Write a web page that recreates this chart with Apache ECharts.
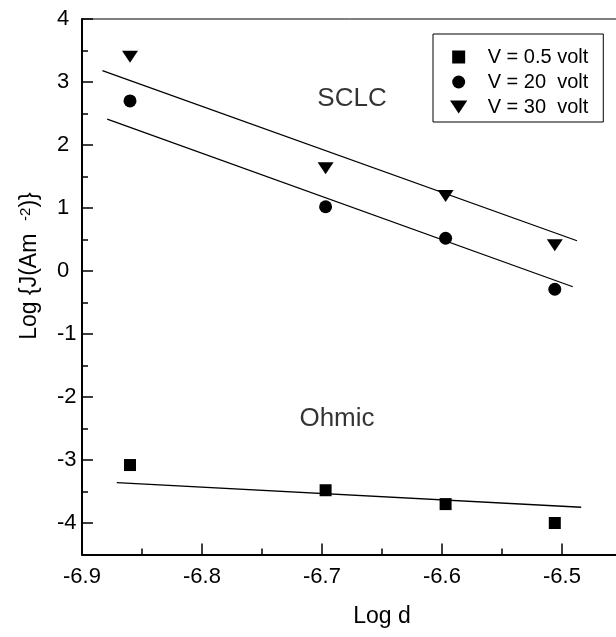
<!DOCTYPE html>
<html>
<head>
<meta charset="utf-8">
<script src="https://cdn.jsdelivr.net/npm/echarts@6/dist/echarts.min.js"></script>
<style>
  html, body { margin: 0; padding: 0; background: #fff; }
  #chart { width: 616px; height: 637px; }
</style>
</head>
<body>
<div id="chart"></div>
<script>
// Film thickness (log d) and current density (log J) for three bias voltages
const xLogD = [-6.860, -6.697, -6.597, -6.506];
const jV05 = [-3.08, -3.48, -3.70, -4.00];
const jV20 = [2.70, 1.02, 0.52, -0.29];
const jV30 = [3.40, 1.63, 1.19, 0.41];
const seriesNames = ['V = 0.5 volt', 'V = 20  volt', 'V = 30  volt'];

// Straight-line fits (end points)
const fitX05 = [-6.871, -6.484];
const fitY05 = [-3.36, -3.75];
const fitX20 = [-6.879, -6.491];
const fitY20 = [2.41, -0.25];
const fitX30 = [-6.883, -6.4875];
const fitY30 = [3.18, 0.48];

// Axis ticks
const yMajorTicks = [-4, -3, -2, -1, 0, 1, 2, 3, 4];
const yMinorTicks = [-3.5, -2.5, -1.5, -0.5, 0.5, 1.5, 2.5, 3.5];

// Region notes
const noteText = ['SCLC', 'Ohmic'];
const noteX = [-6.675, -6.6875];
const noteY = [2.73, -2.34];

const FONT = "'Liberation Sans', Arial, sans-serif";
const pairs = (xs, ys) => xs.map((x, i) => [x, ys[i]]);

const fitLine = (xs, ys) => ({
  type: 'line',
  data: pairs(xs, ys),
  symbol: 'none',
  silent: true,
  lineStyle: { color: '#000', width: 1.3 },
  z: 2
});

const markerStyle = { color: '#000', opacity: 1 };

const chart = echarts.init(document.getElementById('chart'), null, { renderer: 'canvas' });

chart.setOption({
  animation: false,
  backgroundColor: '#fff',
  textStyle: { fontFamily: FONT, color: '#000' },
  grid: {
    left: 82, top: 19, width: 600, height: 535.5,
    outerBoundsMode: 'none',
    show: true, borderColor: '#000', borderWidth: 1, backgroundColor: 'transparent'
  },
  legend: {
    orient: 'vertical',
    left: 433, top: 34,
    itemWidth: 48, itemHeight: 13, itemGap: 5,
    padding: [13, 15, 5, 17],
    borderColor: '#000', borderWidth: 1,
    selectedMode: false,
    data: seriesNames,
    itemStyle: { opacity: 1 },
    textStyle: { fontFamily: FONT, fontSize: 20, lineHeight: 20, color: '#000' }
  },
  xAxis: {
    type: 'value',
    min: -6.9, max: -6.4, interval: 0.1,
    axisLine: { onZero: false, lineStyle: { color: '#000', width: 2 } },
    axisTick: { inside: true, length: 11, lineStyle: { color: '#000', width: 1.5 } },
    minorTick: { show: true, splitNumber: 2, length: 6, lineStyle: { color: '#000', width: 1.5 } },
    splitLine: { show: false },
    axisLabel: {
      margin: 11, fontFamily: FONT, fontSize: 22, color: '#000',
      formatter: v => v.toFixed(1)
    },
    name: 'Log d', nameLocation: 'middle', nameGap: 51,
    nameTextStyle: { fontFamily: FONT, fontSize: 23, color: '#000' }
  },
  yAxis: [
    {
      type: 'value',
      min: -4.5, max: 4,
      axisLine: { onZero: false, lineStyle: { color: '#000', width: 2 } },
      axisTick: { inside: true, length: 11, customValues: yMajorTicks, lineStyle: { color: '#000', width: 1.5 } },
      splitLine: { show: false },
      axisLabel: {
        customValues: yMajorTicks, align: 'left', margin: 25,
        fontFamily: FONT, fontSize: 22, color: '#000'
      }
    },
    {
      type: 'value',
      position: 'left',
      min: -4.5, max: 4,
      axisLine: { show: false, onZero: false },
      axisTick: { inside: true, length: 6, customValues: yMinorTicks, lineStyle: { color: '#000', width: 1.5 } },
      splitLine: { show: false },
      axisLabel: { show: false }
    }
  ],
  graphic: [{
    type: 'text',
    x: 30, y: 266,
    rotation: Math.PI / 2,
    style: {
      text: 'Log {J(Am  {s|-2})}',
      fontFamily: FONT, fontSize: 23, fill: '#000',
      align: 'center', verticalAlign: 'middle',
      rich: { s: { fontFamily: FONT, fontSize: 15, verticalAlign: 'top', fill: '#000' } }
    }
  }],
  series: [
    fitLine(fitX05, fitY05),
    fitLine(fitX20, fitY20),
    fitLine(fitX30, fitY30),
    {
      name: seriesNames[0], type: 'scatter', data: pairs(xLogD, jV05),
      symbol: 'path://M0,0L10,0L10,10L0,10Z', symbolSize: 12, itemStyle: markerStyle, z: 3
    },
    {
      name: seriesNames[1], type: 'scatter', data: pairs(xLogD, jV20),
      symbol: 'circle', symbolSize: 13, itemStyle: markerStyle, z: 3
    },
    {
      name: seriesNames[2], type: 'scatter', data: pairs(xLogD, jV30),
      symbol: 'path://M0,0L16,0L8,12Z', symbolSize: [16, 12], itemStyle: markerStyle, z: 3
    },
    {
      type: 'scatter', silent: true, symbolSize: 0,
      data: noteText.map((t, i) => ({ name: t, value: [noteX[i], noteY[i]] })),
      label: {
        show: true, position: 'inside', formatter: p => p.name,
        fontFamily: FONT, fontSize: 26, color: '#000'
      },
      z: 4
    }
  ]
});
</script>
</body>
</html>
